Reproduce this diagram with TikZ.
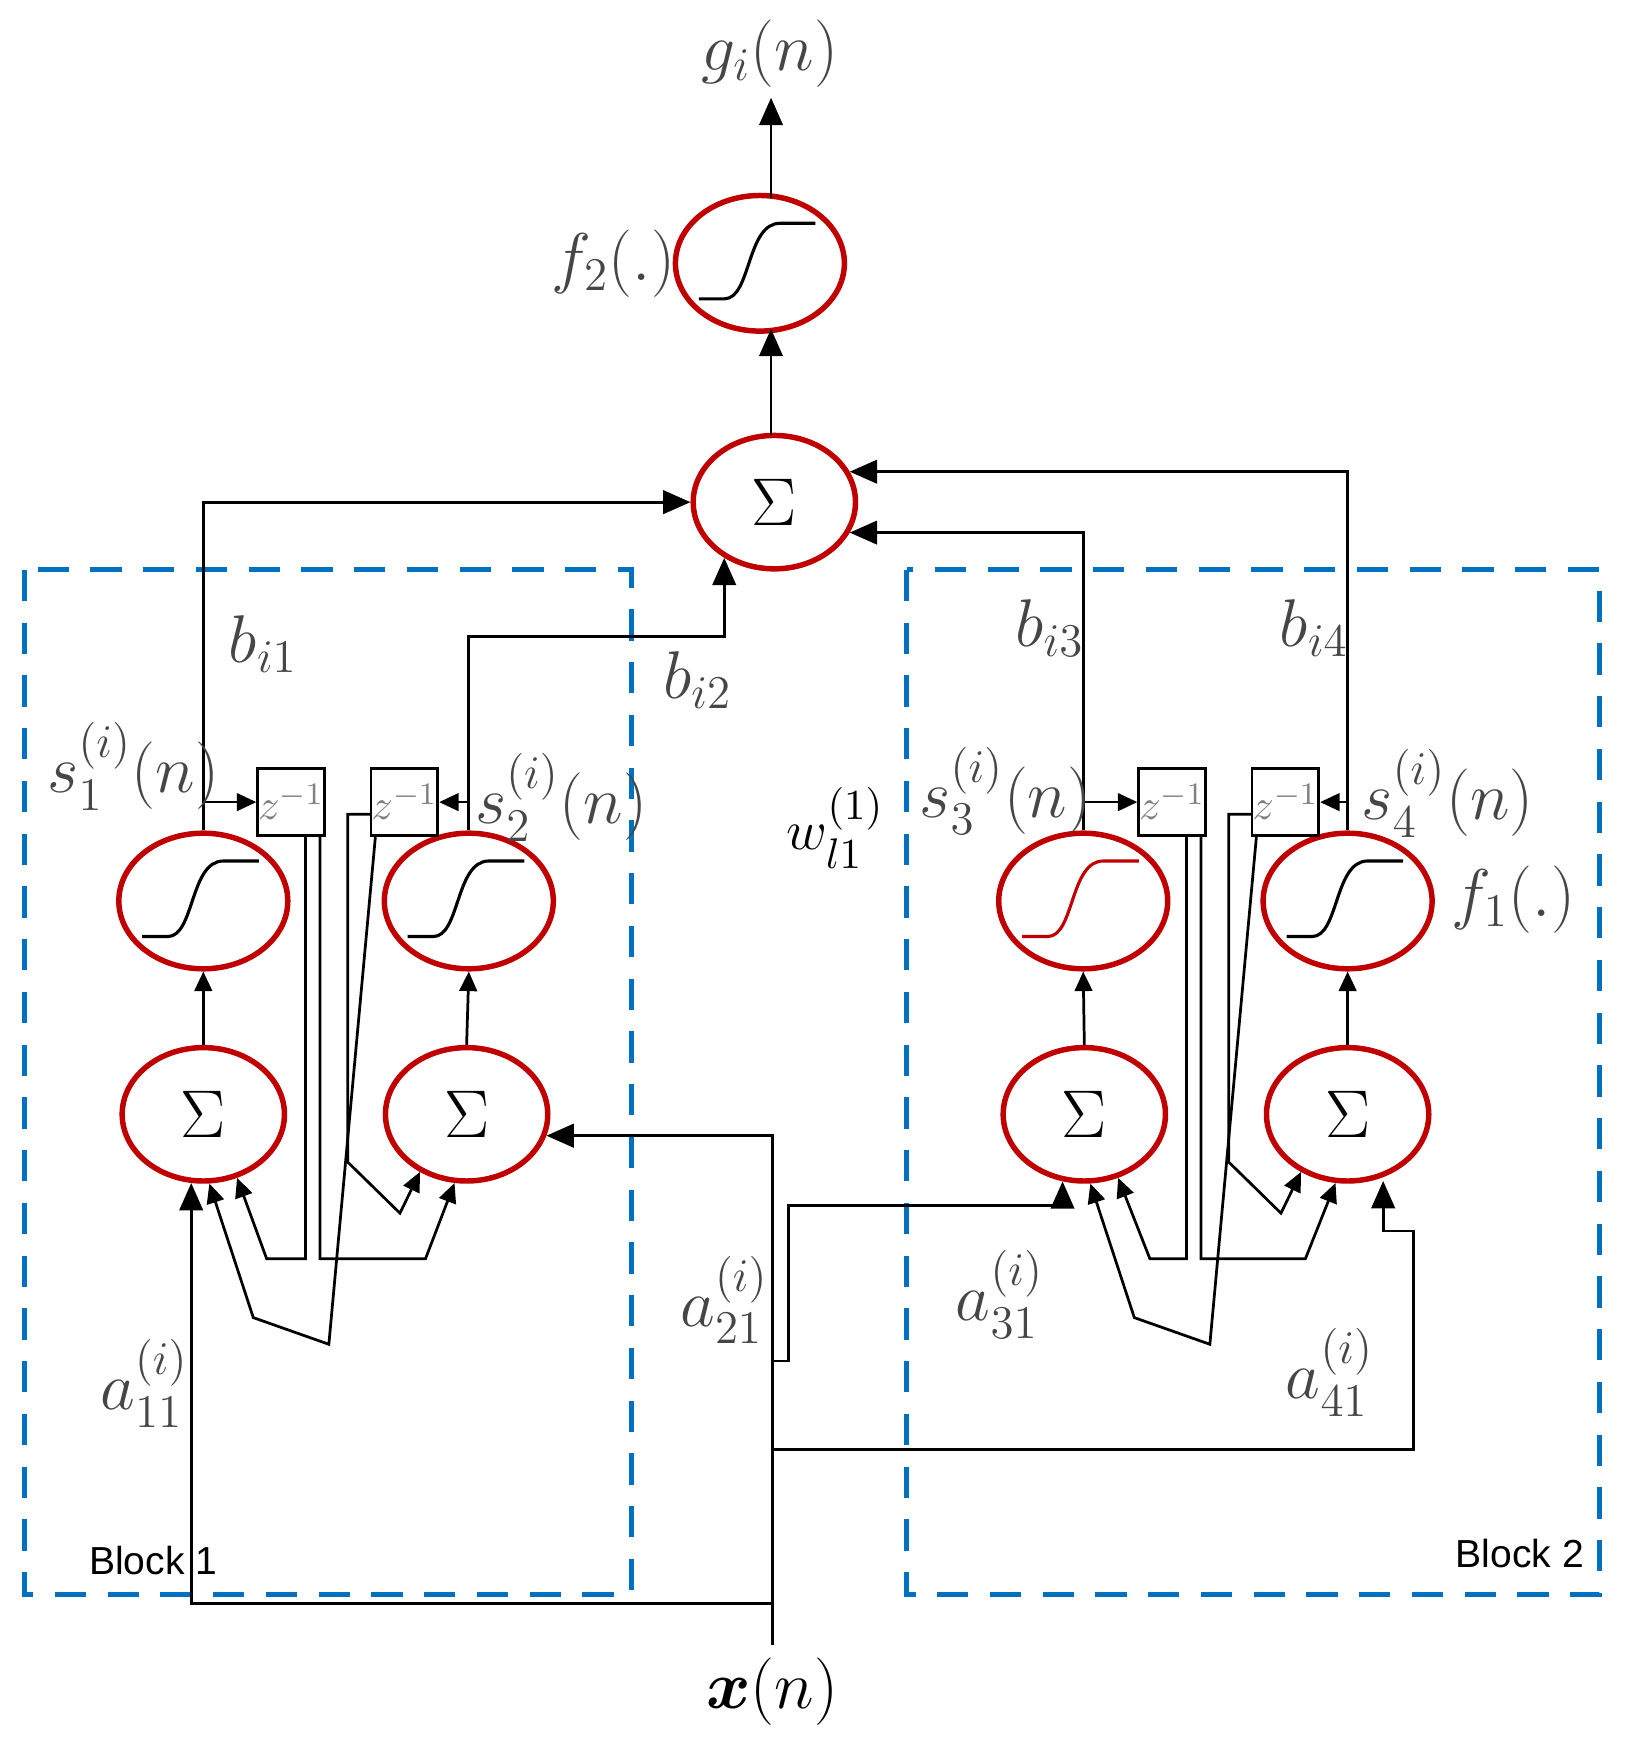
\documentclass[tikz,border=0pt]{standalone}
\usepackage{amsmath,bm}
\usepackage{fontspec}
\usetikzlibrary{shapes.geometric,arrows.meta,calc}
\newfontfamily\blockfont{Liberation Sans}
\definecolor{nred}{RGB}{192,0,0}
\definecolor{bblue}{RGB}{0,112,192}
\definecolor{lab}{RGB}{70,70,70}
\begin{document}
\begin{tikzpicture}[x=0.01cm,y=-0.01cm,
  sig/.style={ellipse,draw=nred,line width=1.4pt,minimum width=1.52cm,minimum height=1.22cm,inner sep=0pt},
  sum/.style={ellipse,draw=nred,line width=1.4pt,minimum width=1.46cm,minimum height=1.2cm,inner sep=0pt,font=\fontsize{17}{20}\selectfont},
  zbox/.style={draw,line width=0.7pt,minimum width=0.6cm,minimum height=0.6cm,inner sep=0pt,font=\fontsize{11}{12}\selectfont\color{gray}},
  ln/.style={line width=0.7pt},
  arr/.style={ln,-{Triangle[length=5pt,width=4.5pt]}},
  barr/.style={ln,-{Triangle[length=7pt,width=6pt]}},
  lbl/.style={text=lab,font=\fontsize{17}{20}\selectfont},
  blk/.style={draw=bblue,line width=1.3pt,dash pattern=on 8pt off 5.5pt},
  btxt/.style={font=\blockfont\fontsize{10}{12}\selectfont}]
\useasboundingbox (0,0) rectangle (1470,1577);
% blocks
\draw[blk] (22,513) rectangle (568,1435);
\draw[blk] (816,513) rectangle (1440,1435);
\node[btxt] (blk1) at (138,1405) {Block 1};
\node[btxt] (blk2) at (1368,1398) {Block 2};
% top nodes
\node[sig] (F2) at (684,237) {};
\node[sum] (T) at (697,452) {$\Sigma$};
\node[lbl] (g) at (693,48) {$g_i(n)$};
\node[lbl] (f2l) at (552,237) {$f_2(.)$};
\coordinate (gb) at (694,88);
\coordinate (f2t) at (694,178);
\coordinate (f2b) at (694,296);
\coordinate (tt) at (694,392);
\draw[barr] (f2t) -- (gb);
\draw[barr] (tt) -- (f2b);
% lower nodes
\node[sig] (G1) at (183,811) {};
\node[sig] (G2) at (422,811) {};
\node[sig] (G3) at (975,811) {};
\node[sig] (G4) at (1213,811) {};
\node[sum] (S1) at (183,1003) {$\Sigma$};
\node[sum] (S2) at (420,1003) {$\Sigma$};
\node[sum] (S3) at (976,1003) {$\Sigma$};
\node[sum] (S4) at (1213,1003) {$\Sigma$};
\node[zbox] (Z1) at (262,722) {$z^{-1}$};
\node[zbox] (Z2) at (364,722) {$z^{-1}$};
\node[zbox] (Z3) at (1055,722) {$z^{-1}$};
\node[zbox] (Z4) at (1157,722) {$z^{-1}$};
% sigmoid curves
\foreach \n/\c in {F2/black,G1/black,G2/black,G3/nred,G4/black}{
  \draw[\c,line width=0.8pt] ($(\n)+(-55,32)$) -- ($(\n)+(-32,32)$) .. controls ($(\n)+(-8,32)$) and ($(\n)+(-12,-36)$) .. ($(\n)+(18,-36)$) -- ($(\n)+(50,-36)$);}
% sum -> sig
\foreach \i in {1,2,3,4}{\draw[arr] (S\i.north) -- (G\i.south);}
% outputs to top sum
\coordinate (h2) at (0,573);
\draw[barr] (G1.north) |- (T.west);
\draw[barr] (G2.north) |- (T.-132 |- h2) -- (T.-132);
\draw[barr] (G3.north) |- (T.-22);
\draw[barr] (G4.north) |- (T.22);
% to delays
\draw[arr] (G1.north |- Z1.west) -- (Z1.west);
\draw[arr] (G2.north |- Z2.east) -- (Z2.east);
\draw[arr] (G3.north |- Z3.west) -- (Z3.west);
\draw[arr] (G4.north |- Z4.east) -- (Z4.east);
% delay feedback block 1
\draw[arr] (275,752) -- (275,1133) -- (240,1133) -- (S1.-62);
\draw[arr] (288,752) -- (288,1133) -- (383,1133) -- (S2.-100);
\draw[arr] (334,733) -- (313,733) -- (313,1046) -- (360,1092) -- (S2.-129);
\draw[arr] (338,752) -- (296,1210) -- (228,1186) -- (S1.-85);
% delay feedback block 2
\draw[arr] (1068,752) -- (1068,1133) -- (1035,1133) -- (S3.-62);
\draw[arr] (1081,752) -- (1081,1133) -- (1175,1133) -- (S4.-100);
\draw[arr] (1127,733) -- (1106,733) -- (1106,1046) -- (1153,1092) -- (S4.-129);
\draw[arr] (1131,752) -- (1089,1210) -- (1021,1186) -- (S3.-85);
% input
\node[text=black,font=\fontsize{18}{20}\selectfont] (x) at (695,1523) {$\bm{x}(n)$};
\coordinate (xa) at (695,1443);
\coordinate (xb) at (695,1225);
\coordinate (xc) at (695,1305);
\coordinate (s4in) at (1245,1063);
\draw[ln] (x.north) -- (xb);
\draw[barr] (xa) -| (S1.-100);
\draw[barr] (xb) |- (S2.-15);
\draw[barr] (xb) -- (710,1225) -- (710,1085) -| (S3.-108);
\draw[barr] (xc) -- (1272,1305) -- (1272,1108) -- (1245,1108) -- (s4in);
% labels
\node[lbl] (b1) at (237,580) {$b_{i1}$};
\node[lbl] (b2) at (628,612) {$b_{i2}$};
\node[lbl] (b3) at (945,565) {$b_{i3}$};
\node[lbl] (b4) at (1183,565) {$b_{i4}$};
\node[lbl] (s1) at (120,690) {$s_1^{(i)}(n)$};
\node[lbl] (s2) at (505,718) {$s_2^{(i)}(n)$};
\node[lbl] (s3) at (905,712) {$s_3^{(i)}(n)$};
\node[lbl] (s4) at (1303,714) {$s_4^{(i)}(n)$};
\node[text=black,font=\fontsize{15}{18}\selectfont] (w) at (752,745) {$w_{l1}^{(1)}$};
\node[lbl] (f1l) at (1362,810) {$f_1(.)$};
\node[lbl] (a11) at (130,1245) {$a_{11}^{(i)}$};
\node[lbl] (a21) at (652,1170) {$a_{21}^{(i)}$};
\node[lbl] (a31) at (900,1165) {$a_{31}^{(i)}$};
\node[lbl] (a41) at (1197,1235) {$a_{41}^{(i)}$};
\end{tikzpicture}
\end{document}
